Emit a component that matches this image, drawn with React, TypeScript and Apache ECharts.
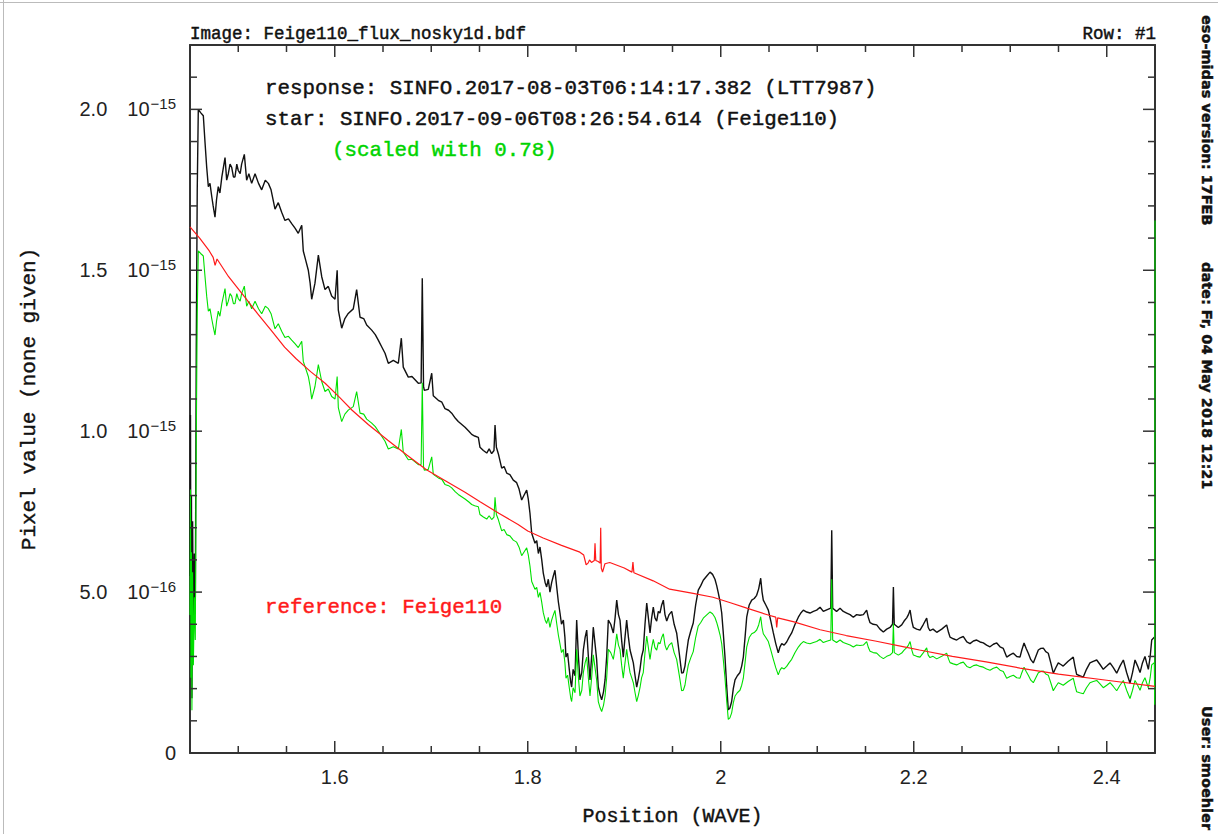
import React, { useEffect, useRef } from "react";
import * as echarts from "echarts";

// ---------- axis ticks & labels ----------
const xMajorTicks = [1.6, 1.8, 2.0, 2.2, 2.4];
const xTickLabels = ["1.6", "1.8", "2", "2.2", "2.4"];
const xMinorTicks = [1.5, 1.55, 1.65, 1.7, 1.75, 1.85, 1.9, 1.95, 2.05, 2.1, 2.15, 2.25, 2.3, 2.35];

// y values are in units of 1e-15
const yMajorTicks = [0, 0.5, 1.0, 1.5, 2.0];
const yTickMantissas = ["0", "5.0", "1.0", "1.5", "2.0"];
const yTickExponents = ["", "−16", "−15", "−15", "−15"];
const yMinorTicks = [0.1, 0.2, 0.3, 0.4, 0.6, 0.7, 0.8, 0.9, 1.1, 1.2, 1.3, 1.4, 1.6, 1.7, 1.8, 1.9, 2.1];

// ---------- data (wavelength, flux in 1e-15) ----------
const starSpectrum: [number, number][] = [
  [1.4500,0.55],[1.4505,1.05],[1.4510,0.30],[1.4515,0.80],[1.4520,0.17],[1.4527,0.72],[1.4535,0.35],[1.4545,0.62],[1.4555,0.45],[1.4565,1.25],[1.4575,1.75],[1.4586,2.00],[1.4610,1.99],[1.4638,1.98],[1.4655,1.90],[1.4673,1.82],[1.4690,1.76],[1.4707,1.77],[1.4725,1.73],[1.4740,1.70],[1.4759,1.665],[1.4775,1.72],[1.4793,1.76],[1.4810,1.74],[1.4830,1.79],[1.4863,1.85],[1.4880,1.78],[1.4897,1.80],[1.4915,1.83],[1.4932,1.82],[1.4950,1.79],[1.4966,1.79],[1.4985,1.83],[1.5000,1.81],[1.5020,1.80],[1.5035,1.83],[1.5063,1.86],[1.5087,1.78],[1.5110,1.80],[1.5139,1.77],[1.5174,1.80],[1.5210,1.77],[1.5243,1.75],[1.5280,1.78],[1.5312,1.77],[1.5340,1.75],[1.5381,1.69],[1.5415,1.71],[1.5450,1.68],[1.5484,1.655],[1.5520,1.66],[1.5554,1.645],[1.5590,1.63],[1.5622,1.615],[1.5658,1.64],[1.5674,1.56],[1.5700,1.53],[1.5726,1.50],[1.5745,1.46],[1.5761,1.41],[1.5795,1.46],[1.5830,1.547],[1.5865,1.48],[1.5899,1.44],[1.5933,1.45],[1.5968,1.42],[1.6003,1.41],[1.6025,1.50],[1.6037,1.376],[1.6072,1.32],[1.6105,1.35],[1.6140,1.366],[1.6192,1.38],[1.6227,1.44],[1.6262,1.354],[1.6300,1.35],[1.6331,1.33],[1.6383,1.314],[1.6420,1.30],[1.6451,1.283],[1.6490,1.26],[1.6521,1.242],[1.6555,1.211],[1.6607,1.22],[1.6659,1.211],[1.6690,1.289],[1.6710,1.199],[1.6762,1.168],[1.6800,1.17],[1.6832,1.16],[1.6866,1.149],[1.6895,1.15],[1.6907,1.475],[1.6920,1.14],[1.6928,1.127],[1.6969,1.13],[1.7005,1.18],[1.7021,1.11],[1.7073,1.096],[1.7110,1.09],[1.7142,1.07],[1.7180,1.065],[1.7212,1.056],[1.7250,1.04],[1.7280,1.03],[1.7350,1.012],[1.7390,1.00],[1.7419,0.99],[1.7450,0.985],[1.7488,0.981],
  [1.7505,0.950],[1.7540,0.94],[1.7575,0.932],[1.7600,0.945],[1.7626,0.93],[1.7650,0.94],[1.7661,1.019],[1.7675,0.95],[1.7695,0.93],[1.7730,0.885],[1.7755,0.89],[1.7782,0.87],[1.7815,0.865],[1.7850,0.848],[1.7885,0.84],[1.7910,0.82],[1.7937,0.786],[1.7960,0.80],[1.7989,0.817],[1.8005,0.79],[1.8023,0.745],[1.8041,0.683],[1.8075,0.652],[1.8093,0.66],[1.8110,0.62],[1.8127,0.640],[1.8145,0.60],[1.8161,0.559],[1.8180,0.53],[1.8196,0.516],[1.8213,0.54],[1.8230,0.50],[1.8248,0.53],[1.8265,0.55],[1.8282,0.568],[1.8300,0.516],[1.8317,0.47],[1.8334,0.435],[1.8350,0.40],[1.8369,0.413],[1.8385,0.36],[1.8396,0.298],[1.8413,0.31],[1.8431,0.258],[1.8445,0.22],[1.8455,0.205],[1.8470,0.26],[1.8490,0.24],[1.8507,0.413],[1.8525,0.30],[1.8541,0.227],[1.8560,0.25],[1.8576,0.32],[1.8595,0.36],[1.8611,0.382],[1.8628,0.30],[1.8645,0.227],[1.8662,0.30],[1.8679,0.391],[1.8697,0.34],[1.8714,0.29],[1.8731,0.205],[1.8750,0.18],[1.8766,0.165],[1.8785,0.19],[1.8801,0.227],[1.8818,0.30],[1.8835,0.413],[1.8860,0.40],[1.8887,0.373],[1.8905,0.42],[1.8922,0.475],[1.8940,0.43],[1.8956,0.413],[1.8973,0.35],[1.8990,0.298],[1.9008,0.36],[1.9025,0.413],[1.9043,0.36],[1.9060,0.32],[1.9077,0.30],[1.9094,0.28],[1.9112,0.24],[1.9129,0.205],[1.9146,0.23],[1.9163,0.26],[1.9180,0.30],[1.9197,0.32],[1.9215,0.40],[1.9233,0.466],[1.9250,0.42],[1.9267,0.373],[1.9284,0.42],[1.9301,0.453],[1.9318,0.42],[1.9336,0.41],[1.9353,0.44],[1.9370,0.435],[1.9388,0.46],[1.9405,0.475],[1.9422,0.43],[1.9440,0.41],[1.9465,0.43],[1.9492,0.44],[1.9517,0.40],[1.9543,0.373],[1.9570,0.31],[1.9595,0.248],[1.9612,0.25],[1.9629,0.27],[1.9645,0.31],[1.9664,0.351],[1.9690,0.38],[1.9715,0.404],[1.9740,0.46],[1.9767,0.506],[1.9793,0.52],[1.9819,0.537],[1.9855,0.55],[1.9889,0.562],[1.9915,0.555],[1.9940,0.54],[1.9958,0.52],[1.9975,0.497],[1.9993,0.47],[2.0010,0.435],[2.0027,0.37],[2.0044,0.298],[2.0061,0.21],[2.0078,0.134],[2.0095,0.14],[2.0113,0.16],[2.0130,0.20],[2.0148,0.227],[2.0172,0.24],[2.0199,0.25],[2.0217,0.27],[2.0234,0.298],[2.0252,0.36],[2.0269,0.422],[2.0295,0.46],[2.0321,0.475],[2.0347,0.48],[2.0372,0.49],[2.0393,0.51],[2.0414,0.543],[2.0428,0.50],[2.0441,0.475],[2.0467,0.46],[2.0493,0.444],[2.0519,0.41],[2.0545,0.373],[2.0570,0.34],[2.0596,0.311],[2.0614,0.33],[2.0632,0.34],[2.0657,0.335],[2.0683,0.345],[2.0709,0.36],[2.0735,0.373],[2.0770,0.40],[2.0804,0.422],[2.0830,0.435],[2.0856,0.444],[2.0890,0.438],[2.0925,0.435],[2.0960,0.44],[2.0994,0.444],
  [2.1029,0.453],[2.1063,0.44],[2.1098,0.445],[2.1140,0.45],[2.1150,0.692],[2.1160,0.45],[2.1200,0.44],[2.1236,0.450],[2.1270,0.44],[2.1305,0.435],[2.1340,0.43],[2.1374,0.422],[2.1408,0.43],[2.1443,0.428],[2.1478,0.43],[2.1512,0.444],[2.1530,0.42],[2.1547,0.405],[2.1580,0.40],[2.1616,0.398],[2.1650,0.385],[2.1685,0.376],[2.1720,0.385],[2.1754,0.39],[2.1780,0.40],[2.1789,0.516],[2.1798,0.40],[2.1840,0.39],[2.1875,0.398],[2.1900,0.41],[2.1927,0.42],[2.1945,0.43],[2.1962,0.444],[2.1980,0.41],[2.1996,0.39],[2.2030,0.385],[2.2065,0.382],[2.2100,0.40],[2.2134,0.419],[2.2150,0.39],[2.2168,0.38],[2.2200,0.385],[2.2238,0.375],[2.2290,0.385],[2.2341,0.398],[2.2360,0.375],[2.2376,0.36],[2.2410,0.355],[2.2445,0.351],[2.2480,0.358],[2.2514,0.362],[2.2550,0.345],[2.2583,0.34],[2.2618,0.348],[2.2652,0.351],[2.2687,0.345],[2.2721,0.342],[2.2755,0.335],[2.2790,0.33],[2.2825,0.338],[2.2860,0.342],[2.2894,0.33],[2.2928,0.325],[2.2963,0.298],[2.2998,0.305],[2.3032,0.31],[2.3067,0.30],[2.3101,0.298],[2.3120,0.32],[2.3143,0.342],[2.3165,0.325],[2.3187,0.31],[2.3213,0.29],[2.3239,0.28],[2.3265,0.30],[2.3291,0.32],[2.3317,0.325],[2.3343,0.326],[2.3368,0.315],[2.3394,0.31],[2.3420,0.28],[2.3446,0.248],[2.3472,0.265],[2.3498,0.28],[2.3524,0.275],[2.3549,0.27],[2.3600,0.285],[2.3653,0.298],[2.3670,0.27],[2.3688,0.244],[2.3720,0.24],[2.3757,0.236],[2.3790,0.26],[2.3826,0.28],[2.3860,0.285],[2.3896,0.289],[2.3930,0.275],[2.3964,0.26],[2.4000,0.27],[2.4034,0.28],[2.4068,0.265],[2.4103,0.248],[2.4137,0.27],[2.4172,0.289],[2.4206,0.25],[2.4241,0.217],[2.4267,0.25],[2.4293,0.289],[2.4320,0.27],[2.4345,0.25],[2.4370,0.28],[2.4396,0.30],[2.4413,0.28],[2.4431,0.26],[2.4450,0.30],[2.4466,0.351],[2.4493,0.360]
];

// the green trace is the star spectrum scaled with 0.78 (as annotated on the plot)
const GREEN_SCALE = 0.78;
// extra points of the green trace at the very right edge
const greenTail: [number, number][] = [[2.4497, 0.15], [2.4500, 1.655]];

const referenceSpectrum: [number, number][] = [
  [1.450,1.635],[1.460,1.600],[1.470,1.560],[1.474,1.540],[1.476,1.515],[1.478,1.535],[1.490,1.480],[1.507,1.416],[1.520,1.365],[1.535,1.310],[1.548,1.261],[1.560,1.225],[1.575,1.185],[1.590,1.149],[1.605,1.105],[1.618,1.065],[1.635,1.020],[1.655,0.972],[1.675,0.925],[1.695,0.880],[1.715,0.845],[1.735,0.810],[1.751,0.780],[1.770,0.745],[1.790,0.710],[1.800,0.690],[1.816,0.668],[1.835,0.645],[1.854,0.624],[1.858,0.615],[1.8605,0.585],[1.8625,0.590],[1.864,0.600],[1.866,0.592],[1.8690,0.598],[1.8697,0.652],[1.8705,0.598],[1.873,0.595],[1.8750,0.590],[1.8756,0.700],[1.8762,0.575],[1.8775,0.562],[1.880,0.588],[1.885,0.592],[1.900,0.575],[1.908,0.562],[1.909,0.593],[1.910,0.560],[1.930,0.535],[1.947,0.509],[1.970,0.497],[1.992,0.484],[2.010,0.467],[2.027,0.450],[2.050,0.428],[2.057,0.422],[2.058,0.390],[2.059,0.420],[2.075,0.408],[2.103,0.383],[2.130,0.365],[2.160,0.348],[2.190,0.330],[2.206,0.320],[2.240,0.300],[2.275,0.283],[2.310,0.264],[2.350,0.245],[2.400,0.226],[2.450,0.207]
];

// ---------- texts ----------
const headerLeft = "Image: Feige110_flux_nosky1d.bdf";
const headerRight = "Row: #1";
const responseText = "response: SINFO.2017-08-03T06:14:17.382 (LTT7987)";
const starText = "star: SINFO.2017-09-06T08:26:54.614 (Feige110)";
const scaledText = "(scaled with 0.78)";
const referenceText = "reference: Feige110";
const sideTexts = ["eso-midas version: 17FEB", "date: Fr, 04 May 2018 12:21", "User: smoehler"];

const MONO = '"Liberation Mono", "DejaVu Sans Mono", monospace';
const SANS = '"Liberation Sans", Arial, sans-serif';
const SIDE = '"DejaVu Sans", sans-serif';
const AX = "#333";
const X_MIN = 1.45;
const X_MAX = 2.45;
const Y_MIN = 0;
const Y_MAX = 2.2;
const MAJOR_LEN = 12;
const MINOR_LEN = 7;

function idx(list: number[], v: number) {
  return list.findIndex((t) => Math.abs(t - v) < 1e-6);
}

function txt(x: number, y: number, text: string, font: string, fill: string, align = "left", extra: any = {}) {
  return {
    type: "text",
    x,
    y,
    ...extra,
    style: {
      text,
      font,
      fill,
      align,
      verticalAlign: "middle",
      textAlign: align,
      textVerticalAlign: "middle",
      stroke: fill,
      lineWidth: 0.45,
    },
  };
}

export default function App() {
  const ref = useRef<HTMLDivElement>(null);
  useEffect(() => {
    if (!ref.current) return;
    const chart = echarts.init(ref.current, null, { renderer: "svg" });
    const greenData = starSpectrum
      .map(([w, v]) => [w, v * GREEN_SCALE] as [number, number])
      .concat(greenTail);

    const xTickData = xMajorTicks.map((v) => [v, Y_MIN, MAJOR_LEN]).concat(xMinorTicks.map((v) => [v, Y_MIN, MINOR_LEN]));
    const yTickData = yMajorTicks.map((v) => [X_MIN, v, MAJOR_LEN]).concat(yMinorTicks.map((v) => [X_MIN, v, MINOR_LEN]));

    const xBase = { type: "value", gridIndex: 0, min: X_MIN, max: X_MAX, interval: 0.05, splitLine: { show: false }, axisTick: { show: false } };
    const yBase = { type: "value", gridIndex: 0, min: Y_MIN, max: Y_MAX, interval: 0.1, splitLine: { show: false }, axisTick: { show: false } };
    const lineAx = { show: true, onZero: false, lineStyle: { color: AX, width: 2 } };

    const option: any = {
      animation: false,
      backgroundColor: "#ffffff",
      grid: { left: 190, right: 70, top: 45, bottom: 81, outerBoundsMode: "none" },
      xAxis: [
        {
          ...xBase,
          position: "bottom",
          axisLine: lineAx,
          axisLabel: {
            show: true,
            formatter: (v: number) => { const i = idx(xMajorTicks, v); return i >= 0 ? xTickLabels[i] : ""; },
            margin: 14,
            color: "#222",
            fontSize: 20,
            fontFamily: SANS,
            showMinLabel: true,
            showMaxLabel: true,
            hideOverlap: false,
          },
          name: "Position (WAVE)",
          nameLocation: "middle",
          nameGap: 53,
          nameTextStyle: { fontFamily: MONO, fontSize: 20, color: "#111", textBorderColor: "#111", textBorderWidth: 0.4 },
        },
        { ...xBase, position: "top", axisLine: lineAx, axisLabel: { show: false } },
      ],
      yAxis: [
        {
          ...yBase,
          position: "left",
          axisLine: lineAx,
          axisLabel: {
            show: true,
            margin: 14,
            showMinLabel: true,
            showMaxLabel: true,
            hideOverlap: false,
            formatter: (v: number) => {
              const i = idx(yMajorTicks, v);
              if (i < 0) return "";
              if (!yTickExponents[i]) return `{z|${yTickMantissas[i]}}`;
              return `{m|${yTickMantissas[i]}}{b|10}{e|${yTickExponents[i]}}`;
            },
            rich: {
              z: { fontSize: 20, fontFamily: SANS, color: "#222", lineHeight: 24 },
              m: { fontSize: 20, fontFamily: SANS, color: "#222", padding: [0, 20, 0, 0], lineHeight: 24 },
              b: { fontSize: 20, fontFamily: SANS, color: "#222", lineHeight: 24 },
              e: { fontSize: 15, fontFamily: SANS, color: "#222", padding: [0, 0, 12, 1], lineHeight: 16 },
            },
          },
          name: "Pixel value (none given)",
          nameLocation: "middle",
          nameRotate: 90,
          nameGap: 150,
          nameTextStyle: { fontFamily: MONO, fontSize: 21, color: "#111", textBorderColor: "#111", textBorderWidth: 0.4 },
        },
        { ...yBase, position: "right", axisLine: lineAx, axisLabel: { show: false } },
      ],
      series: [
        {
          name: "star",
          type: "line",
          xAxisIndex: 0,
          yAxisIndex: 0,
          data: starSpectrum,
          showSymbol: false,
          symbol: "none",
          lineStyle: { color: "#111", width: 1.4 },
          z: 2,
        },
        {
          name: "star scaled",
          type: "line",
          xAxisIndex: 0,
          yAxisIndex: 0,
          data: greenData,
          showSymbol: false,
          symbol: "none",
          lineStyle: { color: "#00e000", width: 1.1 },
          z: 3,
        },
        {
          name: "reference",
          type: "line",
          xAxisIndex: 0,
          yAxisIndex: 0,
          data: referenceSpectrum,
          showSymbol: false,
          symbol: "none",
          lineStyle: { color: "#ff1a1a", width: 1.2 },
          z: 4,
        },
        {
          // ticks on bottom and top frame edges (inward)
          name: "xTicks",
          type: "custom",
          xAxisIndex: 0,
          yAxisIndex: 0,
          silent: true,
          clip: false,
          z: 6,
          encode: { x: 0, y: 1 },
          data: xTickData,
          renderItem: (_p: any, api: any) => {
            const v = api.value(0);
            const len = api.value(2);
            const b = api.coord([v, Y_MIN]);
            const t = api.coord([v, Y_MAX]);
            return {
              type: "group",
              children: [
                { type: "line", shape: { x1: b[0], y1: b[1], x2: b[0], y2: b[1] - len }, style: { stroke: AX, lineWidth: 1.5 } },
                { type: "line", shape: { x1: t[0], y1: t[1], x2: t[0], y2: t[1] + len }, style: { stroke: AX, lineWidth: 1.5 } },
              ],
            };
          },
        },
        {
          // ticks on left and right frame edges (inward)
          name: "yTicks",
          type: "custom",
          xAxisIndex: 0,
          yAxisIndex: 0,
          silent: true,
          clip: false,
          z: 6,
          encode: { x: 0, y: 1 },
          data: yTickData,
          renderItem: (_p: any, api: any) => {
            const v = api.value(1);
            const len = api.value(2);
            const l = api.coord([X_MIN, v]);
            const r = api.coord([X_MAX, v]);
            return {
              type: "group",
              children: [
                { type: "line", shape: { x1: l[0], y1: l[1], x2: l[0] + len, y2: l[1] }, style: { stroke: AX, lineWidth: 1.5 } },
                { type: "line", shape: { x1: r[0], y1: r[1], x2: r[0] - len, y2: r[1] }, style: { stroke: AX, lineWidth: 1.5 } },
              ],
            };
          },
        },
      ],
      graphic: [
        { type: "line", shape: { x1: 3.5, y1: 0, x2: 3.5, y2: 834 }, style: { stroke: "#bbbbbb", lineWidth: 1 } },
        { type: "line", shape: { x1: 0, y1: 2.5, x2: 1218, y2: 2.5 }, style: { stroke: "#bbbbbb", lineWidth: 1 } },
        txt(190, 34, headerLeft, `17.5px ${MONO}`, "#111"),
        txt(1156, 34, headerRight, `17.5px ${MONO}`, "#111", "right"),
        txt(265, 88, responseText, `20.8px ${MONO}`, "#111"),
        txt(265, 119, starText, `20.8px ${MONO}`, "#111"),
        txt(332, 150, scaledText, `20.8px ${MONO}`, "#00d400"),
        txt(265, 607, referenceText, `20.8px ${MONO}`, "#ff1a1a"),
        txt(1207, 15, sideTexts[0], `bold 14.5px ${SIDE}`, "#111", "left", { rotation: -Math.PI / 2 }),
        txt(1207, 262, sideTexts[1], `bold 14.5px ${SIDE}`, "#111", "left", { rotation: -Math.PI / 2 }),
        txt(1207, 706, sideTexts[2], `bold 14.5px ${SIDE}`, "#111", "left", { rotation: -Math.PI / 2 }),
      ],
    };
    chart.setOption(option);
    return () => chart.dispose();
  }, []);

  return (
    <div
      ref={ref}
      style={{ position: "absolute", left: 0, top: 0, width: 1225, height: 834, background: "#fff" }}
    />
  );
}
